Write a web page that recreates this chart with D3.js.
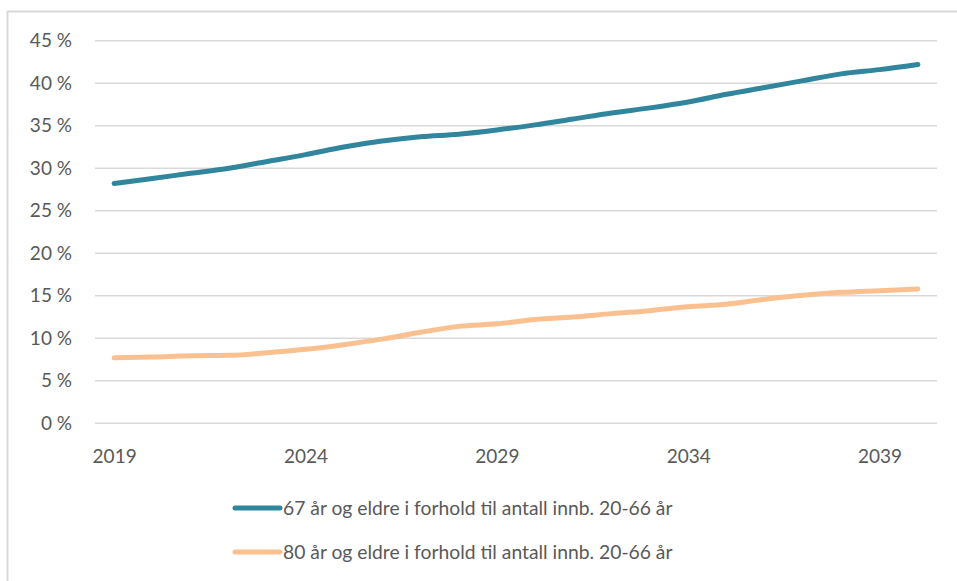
<!DOCTYPE html>
<html>
<head>
<meta charset="utf-8">
<script src="https://d3js.org/d3.v7.min.js"></script>
<style>
  body { margin: 0; background: #fff; }
  text { font-family: Lato, "Open Sans", sans-serif; fill: #595959; }
</style>
</head>
<body>
<svg width="957" height="581"></svg>
<script>
// data
var years = [2019, 2020, 2021, 2022, 2023, 2024, 2025, 2026, 2027, 2028, 2029,
             2030, 2031, 2032, 2033, 2034, 2035, 2036, 2037, 2038, 2039, 2040];
var tickYears = [2019, 2024, 2029, 2034, 2039];
var yTicks = [0, 5, 10, 15, 20, 25, 30, 35, 40, 45];
var over67 = [28.2, 28.8, 29.4, 30.0, 30.8, 31.6, 32.5, 33.2, 33.7, 34.0, 34.5,
              35.1, 35.8, 36.5, 37.1, 37.8, 38.7, 39.5, 40.3, 41.1, 41.6, 42.2];
var over80 = [7.7, 7.8, 7.95, 8.0, 8.3, 8.7, 9.25, 9.9, 10.7, 11.4, 11.7,
              12.2, 12.5, 12.9, 13.25, 13.7, 14.0, 14.6, 15.05, 15.4, 15.6, 15.8];
var names = ["67 år og eldre i forhold til antall innb. 20-66 år",
             "80 år og eldre i forhold til antall innb. 20-66 år"];
var colors = ["#31859c", "#fac090"];

var svg = d3.select("svg");

// outer frame (left + top only visible)
svg.append("path")
  .attr("d", "M7.5,581V11.5H957")
  .attr("fill", "none")
  .attr("stroke", "#d9d9d9")
  .attr("stroke-width", 2);

var x = d3.scalePoint().domain(years).range([95, 937]).padding(0.5);
var y = d3.scaleLinear().domain([0, 45]).range([423.3, 40.7]);

// gridlines
svg.append("g")
  .selectAll("line")
  .data(yTicks).enter().append("line")
  .attr("x1", 95).attr("x2", 937)
  .attr("y1", function(d) { return y(d); })
  .attr("y2", function(d) { return y(d); })
  .attr("stroke", "#d9d9d9")
  .attr("stroke-width", 1.5);

// y axis labels
var yAxis = svg.append("g")
  .attr("transform", "translate(95,0)")
  .call(d3.axisLeft(y).tickValues(yTicks).tickSize(0).tickPadding(23)
        .tickFormat(function(d) { return d + " %"; }));
yAxis.select(".domain").remove();
yAxis.selectAll("text").style("font-size", "19px").attr("fill", "#595959");

// x axis labels
var xAxis = svg.append("g")
  .attr("transform", "translate(0,423.3)")
  .call(d3.axisBottom(x).tickValues(tickYears).tickSize(0).tickPadding(26));
xAxis.select(".domain").remove();
xAxis.selectAll("text").style("font-size", "19px").attr("fill", "#595959");

var line = d3.line()
  .x(function(d, i) { return x(years[i]); })
  .y(function(d) { return y(d); })
  .curve(d3.curveMonotoneX);

[over67, over80].forEach(function(s, i) {
  svg.append("path")
    .attr("d", line(s))
    .attr("fill", "none")
    .attr("stroke", colors[i])
    .attr("stroke-width", 5)
    .attr("stroke-linecap", "round")
    .attr("stroke-linejoin", "round");
});

// legend
var legend = svg.append("g");
names.forEach(function(n, i) {
  var ly = 508 + i * 44;
  legend.append("line")
    .attr("x1", 235).attr("x2", 280)
    .attr("y1", ly).attr("y2", ly)
    .attr("stroke", colors[i])
    .attr("stroke-width", 5)
    .attr("stroke-linecap", "round");
  legend.append("text")
    .attr("x", 283).attr("y", ly)
    .attr("dy", "0.35em")
    .style("font-size", "19.3px")
    .text(n);
});
</script>
</body>
</html>
